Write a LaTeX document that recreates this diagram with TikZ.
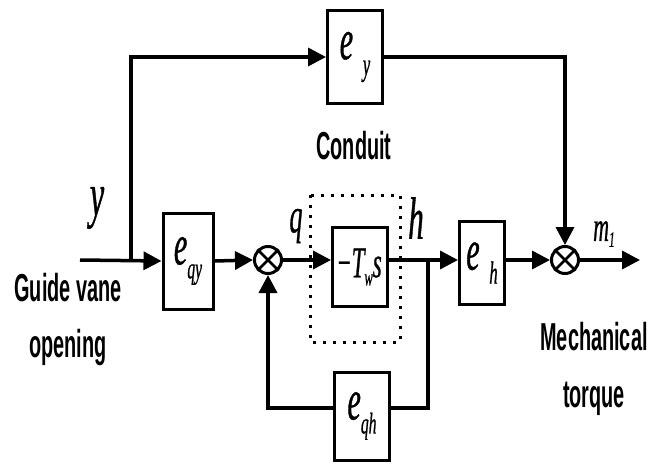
\documentclass[tikz,border=0pt]{standalone}
\usepackage{fontspec}
\usetikzlibrary{arrows.meta}
\newfontfamily\lblfont[FakeStretch=0.51]{Liberation Sans}
\newfontfamily\mifont[FakeStretch=0.52,FakeBold=0.6]{Liberation Serif}
\newcommand\lbl[1]{{\lblfont\bfseries\fontsize{39}{42}\selectfont #1}}
\newcommand\sbx[3]{\raisebox{#1}{\fontsize{#2}{#2}\selectfont #3}}
\newcommand\mv[2]{{\mifont\itshape\fontsize{#1}{#1}\selectfont #2}}
\begin{document}
\begin{tikzpicture}[x=1pt,y=-1pt,
  line width=3.5pt,
  arr/.style={-{Triangle[length=18pt,width=18pt]}},
  blk/.style={draw,line width=3pt,inner sep=0pt,fill=white},
  sumnode/.style={circle,draw,line width=3pt,minimum size=27pt,inner sep=0pt},
  txt/.style={inner sep=0pt}]
\useasboundingbox (0,0) rectangle (662,466);
% blocks
\node[blk,minimum width=50pt,minimum height=96pt] (eqy) at (188,261) {\mv{58}{e\sbx{-14pt}{30}{qy}}};
\node[blk,minimum width=55pt,minimum height=93pt] (ey) at (355,57) {\mv{58}{e\,\sbx{-16pt}{32}{y}}};
\node[blk,minimum width=55pt,minimum height=79pt] (tws) at (360,267) {\mv{44}{\kern-2pt\textminus T\sbx{-8pt}{24}{w}s}};
\node[blk,minimum width=45pt,minimum height=83pt] (eh) at (482,263) {\mv{58}{e\,\sbx{-14pt}{32}{h}}};
\node[blk,minimum width=55pt,minimum height=88pt] (eqh) at (362,416) {\mv{58}{e\sbx{-14pt}{30}{qh}}};
% summing junctions
\node[sumnode] (s1) at (268,260) {};
\draw[line width=2.5pt] (s1.north west) -- (s1.south east) (s1.north east) -- (s1.south west);
\node[sumnode] (s2) at (565,260) {};
\draw[line width=2.5pt] (s2.north west) -- (s2.south east) (s2.north east) -- (s2.south west);
% coordinates
\coordinate (in) at (80,260);
\coordinate (br) at (131,260);
\coordinate (j) at (428,260);
\coordinate (out) at (640,260);
% dotted conduit box
\draw[line width=3pt,dash pattern=on 3pt off 7pt] (310,195) rectangle (400,342);
% connectors
\draw[arr] (in) -- (eqy.west);
\draw[arr] (br) |- (ey.west);
\draw[arr] (ey.east) -| (s2.north);
\draw[arr] (eqy.east) -- (s1.west);
\draw[arr] (s1.east) -- (s1.east -| tws.west);
\draw[arr] (tws.east |- j) -- (j) -- (eh.west |- j);
\draw[arr] (eh.east |- s2) -- (s2.west);
\draw[arr] (s2.east) -- (out);
\draw (j) |- (eqh.east |- 0,408);
\draw[arr] (eqh.west |- 0,408) -| (s1.south);
% labels
\node[txt] (ly) at (97,208) {\mv{62}{y}};
\node[txt] (lq) at (296,226) {\mv{50}{q}};
\node[txt] (lh) at (416,218) {\mv{60}{h}};
\node[txt] (lm) at (604,234) {\mv{42}{m\sbx{-6pt}{22}{1}}};
\node[txt,anchor=base] (lc) at (354,159) {\lbl{Conduit}};
\node[txt,anchor=base] (lg1) at (68,301) {\lbl{Guide vane}};
\node[txt,anchor=base] (lg2) at (68,357) {\lbl{opening}};
\node[txt,anchor=base] (lmt1) at (594,350) {\lbl{Mechanical}};
\node[txt,anchor=base] (lmt2) at (594,407) {\lbl{torque}};
\end{tikzpicture}
\end{document}
